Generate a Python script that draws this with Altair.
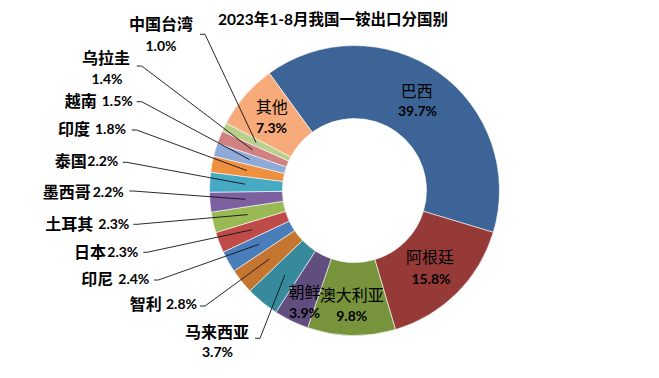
import math
import altair as alt
import pandas as pd

# ---- data ----
TITLE = "2023年1-8月我国一铵出口分国别"
names = ["巴西", "阿根廷", "澳大利亚", "朝鲜", "马来西亚", "智利", "印尼", "日本",
         "土耳其", "墨西哥", "泰国", "印度", "越南", "乌拉圭", "中国台湾", "其他"]
values = [39.7, 15.8, 9.8, 3.9, 3.7, 2.8, 2.4, 2.3, 2.3, 2.2, 2.2, 1.8, 1.5, 1.4, 1.0, 7.3]
pct_labels = [f"{v:.1f}%" for v in values]

# ---- styles ----
colors = ["#3D6497", "#963A38", "#77933C", "#614D7E", "#378A9C", "#C4752F",
          "#4A7EBB", "#BE4B48", "#98B954", "#7D60A0", "#47AAC5", "#EE9040",
          "#8EAAD8", "#D18181", "#B9CF8C", "#F7AA7A"]

# ---- layout (chart pixel coordinates) ----
W, H = 643, 362
CX, CY = 346.5, 182.5
R_OUT, R_IN = 145, 72
R_LEAD = 109.5
START = math.radians(-36)

modes = ["inside", "inside", "inside", "inside", "stack", "inline", "inline", "inline",
         "inline", "inline", "inline", "inline", "inline", "stack", "stack", "inside"]
name_x = [408.7, 422, 343.7, 296.5, 209, 153.7, 105.3, 98, 85.3, 82.7, 78.7, 82, 88.7, 98, 153, 263.7]
name_y = [83.7, 250, 288, 284.5, 324.5, 296.5, 271.5, 245, 217, 184.5, 154, 122, 94, 51, 17, 99.5]
pct_x = [409.5, 423, 343.7, 296.5, 209.5, 158, 110.3, 99.3, 90.3, 84.7, 79.3, 87, 93.7, 99, 153, 263.5]
pct_y = [104, 271.5, 308.7, 305.5, 344.5, 296.5, 271.5, 245, 217, 184.5, 154, 122, 94, 72, 39, 120.5]
lead_x1 = [None, None, None, None, 247, 192, 146, 135.3, 125.3, 121.3, 114.7, 123.7, 128.7, 128.7, 192, None]
lead_x2 = [None, None, None, None, 252, 197, 150.3, 139, 129, 125.3, 118.7, 128.7, 133.7, 133.7, 197, None]
lead_y = [None, None, None, None, 330.3, 298, 272, 244.3, 216.3, 183, 154.3, 122, 93.7, 58, 26.3, None]

df = pd.DataFrame({
    "idx": list(range(len(names))),
    "name": names,
    "value": values,
    "pct": pct_labels,
    "mode": modes,
    "nx": name_x, "ny": name_y,
    "px": pct_x, "py": pct_y,
    "lx1": lead_x1, "lx2": lead_x2, "ly": lead_y,
})

xs = alt.Scale(domain=[0, W], range=[0, W])
ys = alt.Scale(domain=[0, H], range=[0, H])
NAME_FONT = "Noto Sans CJK SC"
PCT_FONT = "Lato"

base = alt.Chart(df)

arc = base.mark_arc(innerRadius=R_IN, outerRadius=R_OUT, stroke="white", strokeWidth=0.6).encode(
    theta=alt.Theta("value:Q", stack=True, scale=alt.Scale(range=[START, START + 2 * math.pi])),
    color=alt.Color("name:N", scale=alt.Scale(domain=names, range=colors), legend=None),
    order=alt.Order("idx:Q"),
    x=alt.value(CX),
    y=alt.value(CY),
)

lead = base.transform_window(
    cum="sum(value)", sort=[alt.SortField("idx")]
).transform_joinaggregate(
    total="sum(value)"
).transform_calculate(
    mid=f"{START} + (datum.cum - datum.value / 2) / datum.total * 2 * PI"
).transform_calculate(
    ex=f"{CX} + {R_LEAD} * sin(datum.mid)",
    ey=f"{CY} - {R_LEAD} * cos(datum.mid)",
).transform_filter("datum.mode != 'inside'")

diag = lead.mark_rule(color="#111111", strokeWidth=0.9).encode(
    x=alt.X("lx2:Q", scale=xs, axis=None),
    y=alt.Y("ly:Q", scale=ys, axis=None),
    x2="ex:Q",
    y2="ey:Q",
)
stub = lead.mark_rule(color="#111111", strokeWidth=0.9).encode(
    x=alt.X("lx1:Q", scale=xs, axis=None),
    y=alt.Y("ly:Q", scale=ys, axis=None),
    x2="lx2:Q",
)

def txt(filter_expr, field, xf, yf, align, font, size, weight):
    return base.transform_filter(filter_expr).mark_text(
        align=align, baseline="middle", font=font, fontSize=size, fontWeight=weight, color="black"
    ).encode(
        x=alt.X(f"{xf}:Q", scale=xs, axis=None),
        y=alt.Y(f"{yf}:Q", scale=ys, axis=None),
        text=f"{field}:N",
    )

name_in = txt("datum.mode == 'inside'", "name", "nx", "ny", "center", NAME_FONT, 16, "normal")
name_stack = txt("datum.mode == 'stack'", "name", "nx", "ny", "center", NAME_FONT, 16, "bold")
name_inline = txt("datum.mode == 'inline'", "name", "nx", "ny", "right", NAME_FONT, 16, "bold")
pct_center = txt("datum.mode != 'inline'", "pct", "px", "py", "center", PCT_FONT, 14, "bold")
pct_inline = txt("datum.mode == 'inline'", "pct", "px", "py", "left", PCT_FONT, 14, "bold")

title = alt.Chart(pd.DataFrame({"t": [TITLE]})).mark_text(
    align="center", baseline="middle", font=f"{PCT_FONT}, '{NAME_FONT}'", fontSize=15.5,
    fontWeight="bold", color="black"
).encode(x=alt.value(325), y=alt.value(11.5), text="t:N")

chart = alt.layer(arc, stub, diag, name_in, name_stack, name_inline, pct_center, pct_inline, title).properties(
    width=W, height=H, padding=0, autosize="none"
).configure_view(stroke=None)

chart.save("out.html", embed_options={"renderer": "svg", "actions": False})
